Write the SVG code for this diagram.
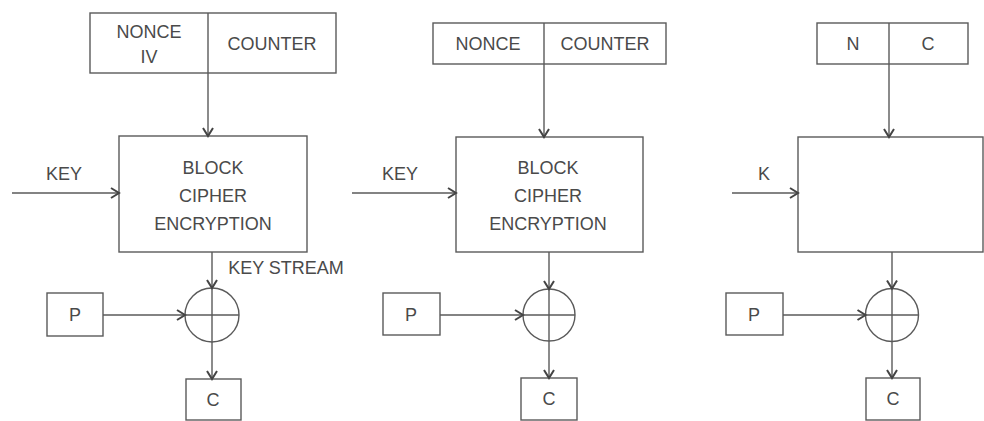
<svg xmlns="http://www.w3.org/2000/svg" width="984" height="421" viewBox="0 0 984 421">
<style>
.b{fill:none;stroke:#5a5a5a;stroke-width:1.4}
.l{fill:none;stroke:#5a5a5a;stroke-width:1.4}
.a{fill:none;stroke:#5a5a5a;stroke-width:1.4;marker-end:url(#ah)}
text{font-family:"Liberation Sans",Arial,sans-serif;font-size:18px;fill:#4a4a4a;text-anchor:middle}
</style>
<defs>
<marker id="ah" viewBox="0 0 12 12" refX="10" refY="6" markerWidth="12" markerHeight="12" markerUnits="userSpaceOnUse" orient="auto">
<path d="M2,1 L10,6 L2,11" fill="none" stroke="#444" stroke-width="2"/>
</marker>
</defs>
<rect width="984" height="421" fill="#fff"/>

<!-- Panel 1 -->
<g id="p1-input">
<rect class="b" x="90" y="13" width="246" height="60"/>
<line class="l" x1="208" y1="13" x2="208" y2="73"/>
<text x="149" y="38">NONCE</text>
<text x="149" y="63">IV</text>
<text x="272" y="50">COUNTER</text>
</g>
<g id="p1-block">
<rect class="b" x="119" y="136" width="188" height="116"/>
<text x="213" y="174">BLOCK</text>
<text x="213" y="202">CIPHER</text>
<text x="213" y="230">ENCRYPTION</text>
</g>
<g id="p1-key"><text x="64" y="180">KEY</text></g>
<g id="p1-keystream"><text x="286" y="274">KEY STREAM</text></g>
<g id="p1-xor">
<circle class="b" cx="212" cy="315" r="27"/>
<line class="l" x1="185" y1="315" x2="239" y2="315"/>
<line class="l" x1="212" y1="288" x2="212" y2="342"/>
</g>
<g id="p1-p"><rect class="b" x="47" y="293" width="56" height="43"/><text x="75" y="321">P</text></g>
<g id="p1-c"><rect class="b" x="186" y="379" width="55" height="41"/><text x="213" y="406">C</text></g>

<!-- Panel 2 -->
<g id="p2-input">
<rect class="b" x="433" y="23" width="233" height="41"/>
<line class="l" x1="544" y1="23" x2="544" y2="64"/>
<text x="488" y="50">NONCE</text>
<text x="605" y="50">COUNTER</text>
</g>
<g id="p2-block">
<rect class="b" x="456" y="137" width="187" height="115"/>
<text x="548" y="174">BLOCK</text>
<text x="548" y="202">CIPHER</text>
<text x="548" y="230">ENCRYPTION</text>
</g>
<g id="p2-key"><text x="400" y="180">KEY</text></g>
<g id="p2-xor">
<circle class="b" cx="549" cy="315" r="26"/>
<line class="l" x1="523" y1="315" x2="575" y2="315"/>
<line class="l" x1="549" y1="289" x2="549" y2="341"/>
</g>
<g id="p2-p"><rect class="b" x="383" y="293" width="57" height="42"/><text x="411" y="321">P</text></g>
<g id="p2-c"><rect class="b" x="521" y="378" width="56" height="42"/><text x="549" y="405">C</text></g>

<!-- Panel 3 -->
<g id="p3-input">
<rect class="b" x="817" y="23" width="151" height="41"/>
<line class="l" x1="889" y1="23" x2="889" y2="64"/>
<text x="853" y="50">N</text>
<text x="928" y="50">C</text>
</g>
<g id="p3-block">
<rect class="b" x="798" y="137" width="185" height="115"/>
</g>
<g id="p3-key"><text x="764" y="180">K</text></g>
<g id="p3-xor">
<circle class="b" cx="892" cy="315" r="26.5"/>
<line class="l" x1="865.5" y1="315" x2="918.5" y2="315"/>
<line class="l" x1="892" y1="288.5" x2="892" y2="341.5"/>
</g>
<g id="p3-p"><rect class="b" x="726" y="293" width="57" height="42"/><text x="754" y="321">P</text></g>
<g id="p3-c"><rect class="b" x="866" y="378" width="54" height="42"/><text x="893" y="405">C</text></g>

<g id="connectors">
<path class="a" d="M208,73 L208,136"/>
<path class="a" d="M12,193 L119,193"/>
<path class="a" d="M212,252 L212,288"/>
<path class="a" d="M103,315 L185,315"/>
<path class="a" d="M212,342 L212,379"/>

<path class="a" d="M544,64 L544,137"/>
<path class="a" d="M352,193 L456,193"/>
<path class="a" d="M549,252 L549,289"/>
<path class="a" d="M440,315 L523,315"/>
<path class="a" d="M549,341 L549,378"/>

<path class="a" d="M889,64 L889,137"/>
<path class="a" d="M732,193 L798,193"/>
<path class="a" d="M892,252 L892,288.5"/>
<path class="a" d="M783,315 L865.5,315"/>
<path class="a" d="M892,341.5 L892,378"/>
</g>
</svg>
